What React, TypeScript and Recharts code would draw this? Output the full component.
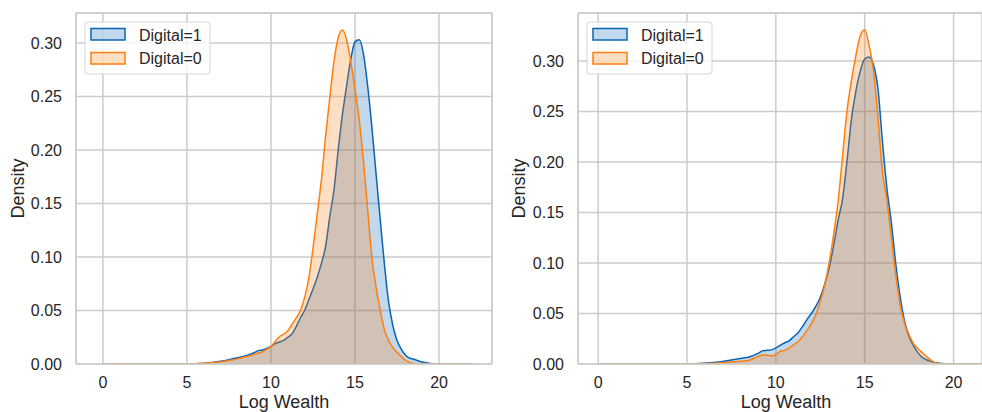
import { Area, AreaChart, CartesianGrid, ReferenceLine, XAxis, YAxis } from 'recharts'

const FONT = '"Liberation Sans", Arial, Helvetica, sans-serif'
const BLUE = '#0a64b4'
const ORANGE = '#ff7f0e'
const GRID = '#cccccc'
const INK = '#262626'

// log wealth grid the densities are sampled on
const wealth = [
  0, 0.5, 1, 1.5, 2, 3, 4, 5, 5.5, 6, 6.5, 7, 7.5, 8, 8.5,
  9, 9.25, 9.5, 9.75, 10, 10.25, 10.5, 10.75, 11, 11.25, 11.5, 11.75,
  12, 12.25, 12.5, 12.75, 13, 13.25, 13.5, 13.75, 14, 14.25, 14.5, 14.75,
  15, 15.25, 15.5, 15.75, 16, 16.25, 16.5, 16.75, 17, 17.25, 17.5, 17.75,
  18, 18.25, 18.5, 18.75, 19, 19.5, 20, 21, 22,
]

// left panel
const leftDigital1 = [
  0, 0, 0, 0, 0, 0, 0, 0, 0.0003, 0.0008, 0.0015, 0.0025, 0.004, 0.0058, 0.0078,
  0.0105, 0.0125, 0.013, 0.0145, 0.0165, 0.019, 0.0205, 0.022, 0.025, 0.028, 0.035, 0.043,
  0.05, 0.06, 0.07, 0.081, 0.094, 0.11, 0.138, 0.163, 0.2, 0.233, 0.26, 0.285,
  0.301, 0.303, 0.29, 0.26, 0.222, 0.178, 0.135, 0.093, 0.058, 0.036, 0.022, 0.014,
  0.0085, 0.0055, 0.0045, 0.003, 0.0018, 0.0005, 0.0001, 0, 0,
]
const leftDigital0 = [
  0, 0.0002, 0.0002, 0, 0, 0, 0, 0, 0.0002, 0.0006, 0.0012, 0.002, 0.0032, 0.0048, 0.0068,
  0.009, 0.0102, 0.0115, 0.0138, 0.0165, 0.021, 0.0255, 0.028, 0.031, 0.037, 0.043, 0.05,
  0.062, 0.08, 0.108, 0.14, 0.172, 0.213, 0.249, 0.283, 0.305, 0.312, 0.303, 0.282,
  0.257, 0.228, 0.19, 0.145, 0.1, 0.072, 0.05, 0.032, 0.022, 0.0155, 0.011, 0.007,
  0.0035, 0.0015, 0.0005, 0, 0, 0, 0, 0, 0,
]

// right panel
const rightDigital1 = [
  0, 0, 0, 0, 0, 0, 0, 0, 0.0002, 0.0008, 0.0015, 0.0025, 0.004, 0.0055, 0.007,
  0.0105, 0.013, 0.0135, 0.014, 0.016, 0.0185, 0.021, 0.023, 0.027, 0.031, 0.037, 0.044,
  0.05, 0.057, 0.066, 0.079, 0.095, 0.117, 0.142, 0.163, 0.2, 0.242, 0.27, 0.29,
  0.302, 0.304, 0.296, 0.272, 0.22, 0.174, 0.14, 0.099, 0.066, 0.042, 0.027, 0.018,
  0.011, 0.0065, 0.004, 0.0025, 0.0012, 0.0002, 0, 0, 0,
]
const rightDigital0 = [
  0, 0, 0, 0, 0, 0, 0, 0, 0.0001, 0.0003, 0.0007, 0.0012, 0.002, 0.0028, 0.0038,
  0.0075, 0.009, 0.0088, 0.008, 0.0095, 0.0125, 0.0135, 0.016, 0.019, 0.022, 0.027, 0.033,
  0.04, 0.049, 0.062, 0.078, 0.1, 0.128, 0.16, 0.205, 0.25, 0.28, 0.305, 0.325,
  0.331, 0.315, 0.29, 0.243, 0.19, 0.162, 0.125, 0.088, 0.058, 0.04, 0.029, 0.02,
  0.015, 0.011, 0.007, 0.0036, 0.001, 0, 0, 0, 0,
]

const xTicks = [0, 5, 10, 15, 20]
const yTicks = [0, 0.05, 0.1, 0.15, 0.2, 0.25, 0.3]
const seriesNames = ['Digital=1', 'Digital=0']
const xTitle = 'Log Wealth'
const yTitle = 'Density'

function buildRows(d1: number[], d0: number[]) {
  return wealth.map((x, i) => ({ x, d1: d1[i], d0: d0[i] }))
}

type PanelProps = {
  rows: { x: number; d1: number; d0: number }[]
  left: number
  width: number
  axisWidth: number
  marginRight: number
  xDomain: [number, number]
  yMax: number
  rightSpine: boolean
}

function KdePanel({ rows, left, width, axisWidth, marginRight, xDomain, yMax, rightSpine }: PanelProps) {
  const spine = { stroke: GRID, strokeWidth: 1.5 }
  const tick = { fill: INK, fontSize: 16 }
  return (
    <div style={{ position: 'absolute', left, top: 0 }}>
      <AreaChart width={width} height={412} data={rows} margin={{ top: 13, right: marginRight, bottom: 8, left: 0 }}>
        <CartesianGrid stroke={GRID} strokeWidth={1.5} />
        <XAxis
          type="number"
          dataKey="x"
          domain={xDomain}
          ticks={xTicks}
          allowDataOverflow
          height={40}
          tickLine={false}
          tickSize={0}
          tickMargin={13}
          axisLine={spine}
          tick={tick}
        />
        <YAxis
          type="number"
          domain={[0, yMax]}
          ticks={yTicks}
          allowDataOverflow
          width={axisWidth}
          tickLine={false}
          tickSize={0}
          tickMargin={14}
          axisLine={spine}
          tick={tick}
          tickFormatter={(v: number) => v.toFixed(2)}
        />
        <ReferenceLine y={yMax} stroke={GRID} strokeWidth={1.5} ifOverflow="visible" />
        {rightSpine && <ReferenceLine x={xDomain[1]} stroke={GRID} strokeWidth={1.5} ifOverflow="visible" />}
        <Area
          type="monotone"
          dataKey="d1"
          name={seriesNames[0]}
          stroke={BLUE}
          strokeWidth={1.5}
          fill={BLUE}
          fillOpacity={0.25}
          dot={false}
          activeDot={false}
          isAnimationActive={false}
        />
        <Area
          type="monotone"
          dataKey="d0"
          name={seriesNames[1]}
          stroke={ORANGE}
          strokeWidth={1.5}
          fill={ORANGE}
          fillOpacity={0.25}
          dot={false}
          activeDot={false}
          isAnimationActive={false}
        />
      </AreaChart>
    </div>
  )
}

function LegendBox({ x }: { x: number }) {
  const colors = [BLUE, ORANGE]
  return (
    <g>
      <rect x={x} y={22} width={125} height={52} rx={3} fill="#ffffff" fillOpacity={0.8} stroke="#d6d6d6" strokeWidth={1} />
      {seriesNames.map((name, i) => (
        <g key={name}>
          <rect
            x={x + 6}
            y={28.5 + i * 24}
            width={34}
            height={11.5}
            fill={colors[i]}
            fillOpacity={0.25}
            stroke={colors[i]}
            strokeWidth={1.5}
          />
          <text x={x + 54} y={40.7 + i * 23.5} fontSize={16} fill={INK}>
            {name}
          </text>
        </g>
      ))}
    </g>
  )
}

function Titles({ yTitleX, xCenter }: { yTitleX: number; xCenter: number }) {
  return (
    <g fill={INK} fontSize={18}>
      <text x={xCenter} y={408} textAnchor="middle">
        {xTitle}
      </text>
      <text x={yTitleX} y={188.5} textAnchor="middle" transform={`rotate(-90 ${yTitleX} 188.5)`}>
        {yTitle}
      </text>
    </g>
  )
}

export default function App() {
  return (
    <div
      style={{
        position: 'absolute',
        left: 0,
        top: 0,
        width: 982,
        height: 412,
        background: '#ffffff',
        fontFamily: FONT,
        overflow: 'hidden',
      }}
    >
      <KdePanel
        rows={buildRows(leftDigital1, leftDigital0)}
        left={0}
        width={495}
        axisWidth={76}
        marginRight={3}
        xDomain={[-1.6, 23.15]}
        yMax={0.328}
        rightSpine
      />
      <KdePanel
        rows={buildRows(rightDigital1, rightDigital0)}
        left={491}
        width={491}
        axisWidth={87}
        marginRight={0}
        xDomain={[-1.13, 21.6]}
        yMax={0.3475}
        rightSpine={false}
      />
      <svg width={982} height={412} style={{ position: 'absolute', left: 0, top: 0, pointerEvents: 'none' }}>
        <Titles yTitleX={24} xCenter={284} />
        <Titles yTitleX={525} xCenter={786} />
        <LegendBox x={85} />
        <LegendBox x={587} />
      </svg>
    </div>
  )
}
